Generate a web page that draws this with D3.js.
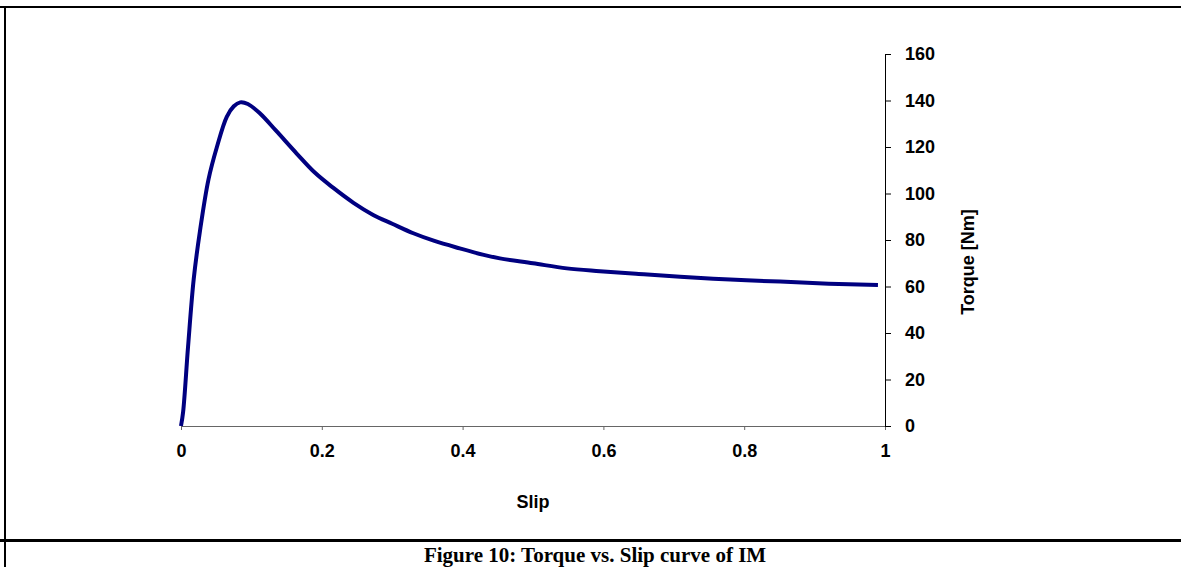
<!DOCTYPE html>
<html>
<head>
<meta charset="utf-8">
<script src="https://cdn.jsdelivr.net/npm/d3@7"></script>
<style>
  html, body { margin: 0; padding: 0; background: #fff; }
  svg { display: block; }
  .tick text { font-family: Arial, "Liberation Sans", sans-serif; font-weight: bold; font-size: 18px; fill: #000; }
</style>
</head>
<body>
<svg id="chart" width="1181" height="567"></svg>
<script>
// values
const slip = [0, 0.003, 0.010, 0.018, 0.027, 0.039, 0.051, 0.065, 0.075, 0.084,
  0.095, 0.112, 0.135, 0.164, 0.19, 0.216, 0.245, 0.273, 0.30, 0.33,
  0.36, 0.396, 0.43, 0.453, 0.50, 0.548, 0.595, 0.65, 0.709, 0.78,
  0.851, 0.92, 0.99]
const torque = [0, 6, 34, 63, 84, 106, 120, 133, 137.5, 139.2,
  138.5, 134.5, 127, 117.3, 109, 102.5, 96, 90.8, 87, 82.9,
  79.6, 76.4, 73.6, 72.1, 70, 67.8, 66.6, 65.4, 64.2, 63,
  62.1, 61.2, 60.6]
const xTicks = [0, 0.2, 0.4, 0.6, 0.8, 1]
const yTicks = [0, 20, 40, 60, 80, 100, 120, 140, 160]

const svg = d3.select('#chart')

// page frame (table cell borders)
svg.append('line').attr('x1', 0).attr('x2', 1181).attr('y1', 7).attr('y2', 7)
  .style('stroke', '#000').style('stroke-width', 2)
svg.append('line').attr('x1', 0).attr('x2', 1181).attr('y1', 540.5).attr('y2', 540.5)
  .style('stroke', '#000').style('stroke-width', 3)
svg.append('line').attr('x1', 5).attr('x2', 5).attr('y1', 6).attr('y2', 567)
  .style('stroke', '#000').style('stroke-width', 2)

let x = d3.scaleLinear().domain([0, 1]).range([181, 885])
let y = d3.scaleLinear().domain([0, 160]).range([426, 54])

let xAxis = svg.append('g')
  .attr('transform', 'translate(0,' + y(0) + ')')
  .call(d3.axisBottom(x).tickValues(xTicks).tickSize(4).tickPadding(14).tickFormat(d3.format('')))
xAxis.select('.domain').style('stroke', '#666')
xAxis.selectAll('.tick line').style('stroke', '#666')

let yAxis = svg.append('g')
  .attr('transform', 'translate(' + x(1) + ',0)')
  .call(d3.axisRight(y).tickValues(yTicks).tickSize(6).tickSizeOuter(6).tickPadding(14))
yAxis.select('.domain').style('stroke', '#000')
yAxis.selectAll('.tick line').style('stroke', '#000')

svg.append('text')
  .attr('x', 533).attr('y', 508)
  .attr('text-anchor', 'middle')
  .style('font-family', 'Arial, "Liberation Sans", sans-serif')
  .style('font-weight', 'bold').style('font-size', '18px')
  .text('Slip')

svg.append('text')
  .attr('transform', 'translate(974,262) rotate(-90)')
  .attr('text-anchor', 'middle')
  .style('font-family', 'Arial, "Liberation Sans", sans-serif')
  .style('font-weight', 'bold').style('font-size', '18px')
  .text('Torque [Nm]')

let pts = slip.map((s, i) => [s, torque[i]])
svg.append('path')
  .datum(pts)
  .attr('d', d3.line().x(d => x(d[0])).y(d => y(d[1])).curve(d3.curveCatmullRom))
  .style('fill', 'none')
  .style('stroke', '#000080')
  .style('stroke-width', 4)
  .style('stroke-linejoin', 'round')

svg.append('text')
  .attr('x', 595).attr('y', 562)
  .attr('text-anchor', 'middle')
  .style('font-family', '"Times New Roman", "Liberation Serif", serif')
  .style('font-weight', 'bold').style('font-size', '21px')
  .text('Figure 10: Torque vs. Slip curve of IM')
</script>
</body>
</html>
